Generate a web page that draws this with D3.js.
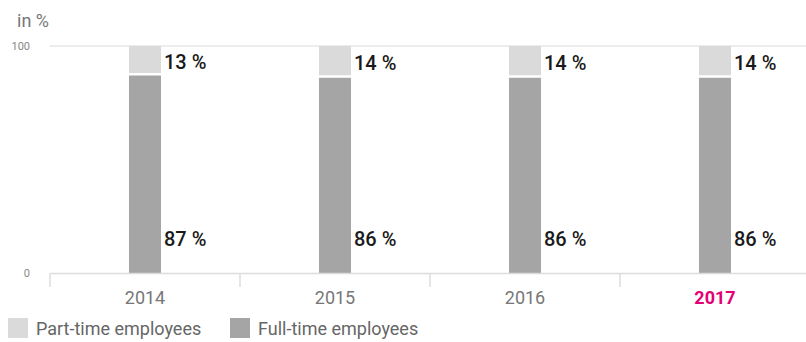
<!DOCTYPE html>
<html><head><meta charset="utf-8">
<script src="https://cdn.jsdelivr.net/npm/d3@7"></script>
<style>body{margin:0;background:#fff}svg{display:block;font-family:Roboto,"Liberation Sans",sans-serif}</style>
</head><body><svg id="c" width="806" height="342"></svg>
<script>
const years = ["2014","2015","2016","2017"];
const fullTime = [87,86,86,86];
const partTime = [13,14,14,14];
const yTicks = [0,100];
const seriesNames = ["Part-time employees","Full-time employees"];

const svg = d3.select("#c");
const x = d3.scaleBand().domain(years).range([50,810]);
const y = d3.scaleLinear().domain([0,100]).range([273,46]);
const barW = 32;
const cPart = "#dadada", cFull = "#a5a5a5";

// top gridline
svg.append("line").attr("x1",50).attr("x2",806).attr("y1",y(100)).attr("y2",y(100)).attr("stroke","#ececec").attr("stroke-width",2);

// y labels
svg.selectAll(".yt").data(yTicks).enter().append("text")
  .attr("x",30).attr("y",d=>y(d)+4).attr("text-anchor","end")
  .attr("font-size",11).attr("fill","#888").text(d=>d);
svg.append("text").attr("x",17).attr("y",27).attr("font-size",18).attr("fill","#777").text("in %");

// bars
const g = svg.append("g");
years.forEach((yr,i)=>{
  const cx = x(yr)+x.bandwidth()/2;
  g.append("rect").attr("x",cx-barW/2).attr("width",barW)
    .attr("y",y(fullTime[i])).attr("height",y(0)-y(fullTime[i])).attr("fill",cFull);
  g.append("rect").attr("x",cx-barW/2).attr("width",barW)
    .attr("y",y(fullTime[i]+partTime[i])).attr("height",y(fullTime[i])-y(fullTime[i]+partTime[i])-2.5).attr("fill",cPart);
  g.append("text").attr("x",cx+barW/2+3).attr("y",y(fullTime[i]+partTime[i]/2)+8)
    .attr("font-size",20).attr("font-weight",500).attr("fill","#1a1a1a").text(partTime[i]+" %");
  g.append("text").attr("x",cx+barW/2+3).attr("y",y(0)-27)
    .attr("font-size",20).attr("font-weight",500).attr("fill","#1a1a1a").text(fullTime[i]+" %");
});

// x axis
const ax = svg.append("g").attr("transform",`translate(0,${y(0)})`)
  .call(d3.axisBottom(x).tickSize(0).tickPadding(18));
ax.select(".domain").attr("stroke","#dcdcdc").attr("stroke-width",1.5);
ax.selectAll("text").attr("font-size",18).attr("fill",(d)=>d==="2017"?"#e20074":"#777")
  .attr("font-weight",d=>d==="2017"?700:400).attr("font-family","Roboto,sans-serif");
// separator ticks
svg.selectAll(".sep").data(years).enter().append("line")
  .attr("x1",d=>x(d)).attr("x2",d=>x(d)).attr("y1",y(0)).attr("y2",y(0)+14)
  .attr("stroke","#dcdcdc").attr("stroke-width",1.5);

// legend
const lg = svg.append("g");
const lx = [8,230];
seriesNames.forEach((n,i)=>{
  lg.append("rect").attr("x",lx[i]).attr("y",318).attr("width",20).attr("height",20).attr("fill",i===0?cPart:cFull);
  lg.append("text").attr("x",lx[i]+28).attr("y",335).attr("font-size",18).attr("fill","#666").text(n);
});
</script></body></html>
